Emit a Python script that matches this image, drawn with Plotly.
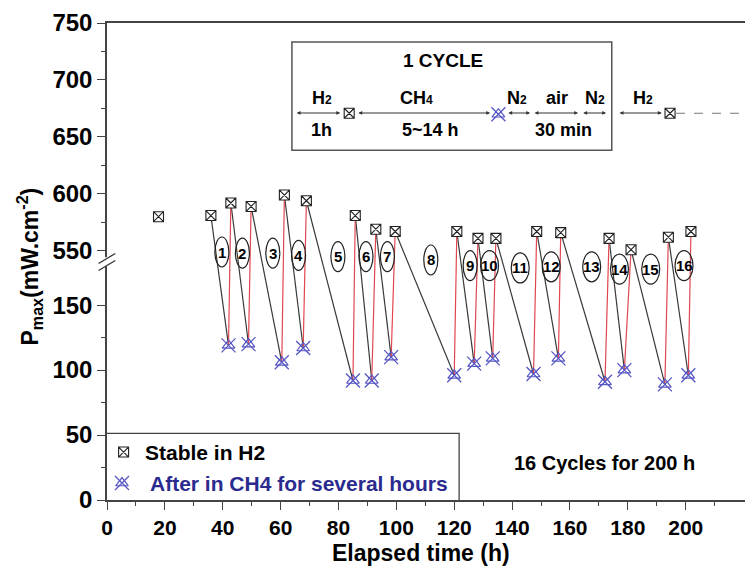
import plotly.graph_objects as go

# ---------------- data ----------------
h2_time = [17.8, 35.9, 42.8, 49.8, 61.3, 68.9, 85.8, 92.9, 99.6, 120.9,
           128.2, 134.4, 148.5, 156.8, 173.5, 181.1, 194.0, 201.8]
h2_pmax = [580, 581, 592, 589, 599, 594, 581, 569, 567, 567,
           561, 561, 567, 566, 561, 551, 562, 567]
ch4_time = [42.0, 48.9, 60.4, 67.8, 85.0, 91.5, 98.2, 120.0,
            126.9, 133.3, 147.4, 156.0, 172.1, 178.8, 192.8, 200.9]
ch4_pmax = [119, 120, 106, 117, 92, 92, 110, 96,
            105, 109, 97, 109, 91, 100, 89, 96]
cycle_numbers = list(range(1, 17))
cycle_label_time = [39.7, 46.8, 57.3, 66.2, 79.8, 89.5, 96.9, 111.9,
                    125.5, 132.2, 142.8, 153.5, 167.5, 177.1, 187.9, 199.4]
cycle_label_level = [549, 548, 548, 546, 545, 545, 545, 542,
                     537, 537, 535, 536, 536, 534, 534, 537]
y_major_ticks = [0, 50, 100, 150, 550, 600, 650, 700, 750]
y_minor_ticks = [25, 75, 125, 575, 625, 675, 725]
x_major_ticks = list(range(0, 201, 20))
x_minor_ticks = list(range(10, 211, 20))

# ---------------- broken-axis mapping ----------------
LOW_TOP = 183.0
HIGH_BOTTOM = 540.0
RATIO = 0.877


def to_axis(v):
    return v if v <= LOW_TOP else LOW_TOP + (v - HIGH_BOTTOM) * RATIO


def to_axis_upper(v):
    return LOW_TOP + (v - HIGH_BOTTOM) * RATIO


# page offset (browser body margin) and plot-area geometry in reference pixels
OFF = 8
W, H = 753 - OFF, 570 - OFF
L, R, T, B = 106.7, 753.0, 22.7, 500.0   # reference-pixel plot area


def px(p):
    return (p - L) / (R - L)


def py(p):
    return (B - p) / (B - T)


FONT = "Liberation Sans, Arial, sans-serif"
BLUE_TXT = "#2b2b8f"
XMK = "#5656c4"
RED = "#e2474f"
DARK = "#3a3a3a"

fig = go.Figure()

# connecting lines
bx, by, rx, ry = [], [], [], []
for k in range(1, len(ch4_time) + 1):
    bx += [h2_time[k], ch4_time[k - 1], None]
    by += [to_axis(h2_pmax[k]), to_axis(ch4_pmax[k - 1]), None]
for j in range(len(ch4_time)):
    rx += [ch4_time[j], h2_time[j + 2], None]
    ry += [to_axis(ch4_pmax[j]), to_axis(h2_pmax[j + 2]), None]

fig.add_trace(go.Scatter(x=bx, y=by, mode="lines", line=dict(color=DARK, width=1.2),
                         showlegend=False, hoverinfo="skip"))
fig.add_trace(go.Scatter(x=rx, y=ry, mode="lines", line=dict(color=RED, width=1.2),
                         showlegend=False, hoverinfo="skip"))

# markers
fig.add_trace(go.Scatter(x=ch4_time, y=[to_axis(v) for v in ch4_pmax], mode="markers",
                         marker=dict(symbol="x-thin-open", size=14, color=XMK,
                                     line=dict(color=XMK, width=1.3)),
                         showlegend=False, name="After in CH4 for several hours"))
fig.add_trace(go.Scatter(x=ch4_time, y=[to_axis(v) for v in ch4_pmax], mode="markers",
                         marker=dict(symbol="triangle-up-open", size=11, color=XMK,
                                     line=dict(color=XMK, width=1.2)),
                         showlegend=False, hoverinfo="skip"))
fig.add_trace(go.Scatter(x=h2_time, y=[to_axis(v) for v in h2_pmax], mode="markers",
                         marker=dict(symbol="square-x", size=10, color="white",
                                     line=dict(color="#222", width=1.1)),
                         showlegend=False, name="Stable in H2"))

# cycle number ellipses
shapes = []
annotations = []
for n, t, lv in zip(cycle_numbers, cycle_label_time, cycle_label_level):
    w = 14 if n < 10 else 18
    yy = to_axis_upper(lv)
    shapes.append(dict(type="circle", xref="x", yref="y", xsizemode="pixel", ysizemode="pixel",
                       xanchor=t, yanchor=yy, x0=-w / 2, x1=w / 2, y0=-15, y1=15,
                       line=dict(color="#222", width=1.2), layer="above"))
    annotations.append(dict(x=t, y=yy, xref="x", yref="y", text=str(n), showarrow=False,
                            xanchor="center", yanchor="middle",
                            font=dict(family=FONT, size=15, color="black", weight="bold")))

# ----- decorations (reference pixel positions -> paper) -----
shapes.append(dict(type="rect", xref="paper", yref="paper", x0=px(291.7), x1=px(611.7),
                   y0=py(150), y1=py(41.7), line=dict(color="#555", width=1.5),
                   fillcolor="white", layer="below"))
shapes.append(dict(type="path", xref="paper", yref="paper",
                   path=f"M {px(L)} {py(433.3)} L {px(459)} {py(433.3)} L {px(459)} {py(B)}",
                   line=dict(color="#444", width=1.3), layer="above"))
shapes.append(dict(type="line", xref="paper", yref="paper", x0=px(676), x1=px(753),
                   y0=py(113), y1=py(113), line=dict(color="#777", width=1.2, dash="dash")))
shapes.append(dict(type="line", xref="paper", yref="paper", x0=px(L), x1=px(L),
                   y0=py(257), y1=py(266), line=dict(color="white", width=4), layer="above"))
for off in (0, 7):
    shapes.append(dict(type="line", xref="paper", yref="paper", x0=px(98.3), x1=px(115),
                       y0=py(263.3 + off), y1=py(253.3 + off),
                       line=dict(color="#333", width=1.3), layer="above"))


def sub(s):
    return f"<span style='font-size:12px'>{s}</span>"


inset_texts = [
    ("1 CYCLE", 443, 60.7, 19),
    ("H" + sub("2"), 321.7, 97.5, 18),
    ("CH" + sub("4"), 416, 97.5, 18),
    ("N" + sub("2"), 516.7, 97.5, 18),
    ("air", 556.7, 97.5, 18),
    ("N" + sub("2"), 595, 97.5, 18),
    ("H" + sub("2"), 643, 97.5, 18),
    ("1h", 321.7, 130, 18),
    ("5~14 h", 430, 130, 18),
    ("30 min", 563.3, 130, 18),
]
for txt, xp, yp, fs in inset_texts:
    annotations.append(dict(x=px(xp), y=py(yp), xref="paper", yref="paper", text=txt,
                            showarrow=False, xanchor="center", yanchor="middle",
                            font=dict(family=FONT, size=fs, color="black", weight="bold")))

arrows = [(295, 340), (356.7, 490), (506.7, 530), (533, 578), (581.7, 606), (618, 661.7)]
for a, b in arrows:
    annotations.append(dict(x=b, y=112.7, ax=a, ay=112.7, xref="x2", yref="y2",
                            axref="x2", ayref="y2", text="", showarrow=True,
                            arrowhead=2, startarrowhead=2, arrowside="end+start",
                            arrowsize=0.7, startarrowsize=0.7, arrowwidth=1.1,
                            arrowcolor="#333", standoff=0, startstandoff=0))

# markers for inset and legend keys (x2/y2 are in reference pixels)
fig.add_trace(go.Scatter(x=[349, 670, 123.3], y=[113, 113, 452], xaxis="x2", yaxis="y2",
                         mode="markers", cliponaxis=False,
                         marker=dict(symbol="square-x", size=10, color="white",
                                     line=dict(color="#222", width=1.1)),
                         showlegend=False, hoverinfo="skip"))
fig.add_trace(go.Scatter(x=[498.3, 121.7], y=[114, 483], xaxis="x2", yaxis="y2",
                         mode="markers", cliponaxis=False,
                         marker=dict(symbol="x-thin-open", size=14, color=XMK,
                                     line=dict(color=XMK, width=1.3)),
                         showlegend=False, hoverinfo="skip"))
fig.add_trace(go.Scatter(x=[498.3, 121.7], y=[114, 483], xaxis="x2", yaxis="y2",
                         mode="markers", cliponaxis=False,
                         marker=dict(symbol="triangle-up-open", size=11, color=XMK,
                                     line=dict(color=XMK, width=1.2)),
                         showlegend=False, hoverinfo="skip"))

# legend texts
annotations.append(dict(x=px(142.7), y=py(452), xref="paper", yref="paper",
                        text="Stable in H2", showarrow=False, xanchor="left", yanchor="middle",
                        font=dict(family=FONT, size=21, color="black", weight="bold")))
annotations.append(dict(x=px(148), y=py(483), xref="paper", yref="paper",
                        text="After in CH4 for several hours", showarrow=False,
                        xanchor="left", yanchor="middle",
                        font=dict(family=FONT, size=21, color=BLUE_TXT, weight="bold")))
annotations.append(dict(x=px(604), y=py(463), xref="paper", yref="paper",
                        text="16 Cycles for 200 h", showarrow=False,
                        xanchor="center", yanchor="middle",
                        font=dict(family=FONT, size=20, color="black", weight="bold")))

# axis titles
annotations.append(dict(x=px(421), y=py(553.5), xref="paper", yref="paper",
                        text="Elapsed time (h)", showarrow=False,
                        xanchor="center", yanchor="middle",
                        font=dict(family=FONT, size=23, color="black", weight="bold")))
annotations.append(dict(x=px(29), y=py(266), xref="paper", yref="paper",
                        text="P<sub>max</sub>(mW.cm<sup>-2</sup>)", showarrow=False,
                        textangle=-90, xanchor="center", yanchor="middle",
                        font=dict(family=FONT, size=23, color="black", weight="bold")))

fig.update_layout(
    width=W, height=H,
    margin=dict(l=L - OFF, r=0, t=T - OFF, b=H - (B - OFF), pad=0),
    paper_bgcolor="white", plot_bgcolor="white",
    showlegend=False,
    shapes=shapes, annotations=annotations,
    xaxis=dict(range=[0, (R - L) / 2.895], tickvals=x_major_ticks,
               ticktext=[str(v) for v in x_major_ticks],
               ticks="outside", ticklen=8, tickwidth=1.2, tickcolor="#444",
               showline=True, linecolor="#444", linewidth=1.5, mirror=True,
               showgrid=False, zeroline=False, automargin=False,
               tickfont=dict(family=FONT, size=21, color="black", weight="bold"),
               minor=dict(tickvals=x_minor_ticks, ticks="outside", ticklen=4,
                          tickwidth=1.1, tickcolor="#444", showgrid=False)),
    yaxis=dict(range=[0, to_axis(750)], tickvals=[to_axis(v) for v in y_major_ticks],
               ticktext=[str(v) for v in y_major_ticks],
               ticks="outside", ticklen=8, tickwidth=1.2, tickcolor="#444",
               showline=True, linecolor="#444", linewidth=1.5, mirror=False,
               showgrid=False, zeroline=False, automargin=False,
               tickfont=dict(family=FONT, size=24, color="black", weight="bold"),
               minor=dict(tickvals=[to_axis(v) for v in y_minor_ticks], ticks="outside",
                          ticklen=4, tickwidth=1.1, tickcolor="#444", showgrid=False)),
    xaxis2=dict(overlaying="x", range=[L, R], visible=False, anchor="y2", fixedrange=True),
    yaxis2=dict(overlaying="y", range=[B, T], visible=False, anchor="x2", fixedrange=True),
)

fig.write_html("out.html")
